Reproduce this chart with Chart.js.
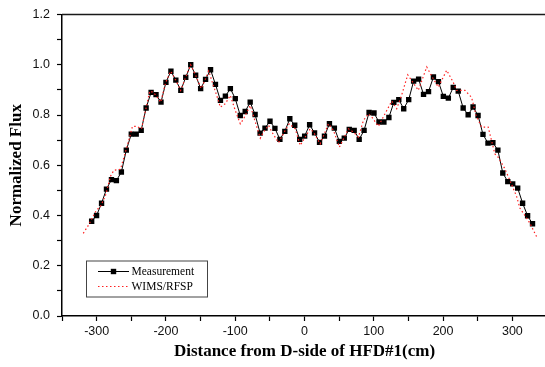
<!DOCTYPE html>
<html>
<head>
<meta charset="utf-8">
<script src="https://cdn.jsdelivr.net/npm/chart.js@4.4.1/dist/chart.umd.min.js"></script>
<style>
    html, body { margin: 0; padding: 0; background: #fff; overflow: hidden; }
    #wrap { position: absolute; left: 0; top: 0; width: 552px; height: 367px; }
</style>
</head>
<body>
<div id="wrap"><canvas id="fluxChart" width="552" height="367"></canvas></div>
<script>
// 测量值: 位置 (cm) 与归一化通量
const measX = [
    -307.2, -300.1, -292.9, -285.8, -278.6, -271.5, -264.3, -257.2, -250.0, -242.9,
    -235.7, -228.6, -221.4, -214.3, -207.1, -200.0, -192.8, -185.7, -178.5, -171.4,
    -164.2, -157.1, -149.9, -142.8, -135.6, -128.5, -121.3, -114.2, -107.0, -99.9,
    -92.7, -85.6, -78.4, -71.3, -64.1, -57.0, -49.8, -42.7, -35.5, -28.4,
    -21.2, -14.1, -6.9, 0.2, 7.4, 14.5, 21.7, 28.8, 36.0, 43.1,
    50.3, 57.4, 64.6, 71.7, 78.9, 86.0, 93.2, 100.3, 107.5, 114.6,
    121.8, 128.9, 136.1, 143.2, 150.4, 157.5, 164.7, 171.8, 179.0, 186.1,
    193.3, 200.4, 207.6, 214.7, 221.9, 229.0, 236.2, 243.3, 250.5, 257.6,
    264.8, 271.9, 279.1, 286.2, 293.4, 300.5, 307.7, 314.8, 322.0, 329.1
];
const measY = [
    0.377, 0.400, 0.449, 0.505, 0.543, 0.539, 0.573, 0.660, 0.724, 0.724,
    0.739, 0.828, 0.890, 0.881, 0.851, 0.930, 0.974, 0.939, 0.898, 0.950,
    1.000, 0.958, 0.905, 0.942, 0.980, 0.922, 0.858, 0.875, 0.905, 0.865,
    0.798, 0.814, 0.851, 0.802, 0.728, 0.748, 0.775, 0.747, 0.703, 0.735,
    0.785, 0.759, 0.703, 0.716, 0.761, 0.729, 0.691, 0.716, 0.765, 0.748,
    0.695, 0.708, 0.743, 0.739, 0.703, 0.739, 0.810, 0.808, 0.772, 0.772,
    0.790, 0.850, 0.861, 0.825, 0.861, 0.935, 0.943, 0.882, 0.893, 0.951,
    0.933, 0.874, 0.867, 0.910, 0.895, 0.828, 0.801, 0.832, 0.798, 0.723,
    0.688, 0.690, 0.660, 0.569, 0.535, 0.526, 0.509, 0.449, 0.399, 0.367
];

// WIMS/RFSP 计算值
const calcX = [
    -319.3, -311.7, -300.6, -294.4, -287.2, -280.0, -275.2, -265.6, -253.6, -248.3,
    -242.5, -235.3, -228.1, -223.3, -218.0, -212.7, -207.5, -200.3, -193.1, -185.9,
    -178.7, -171.5, -164.3, -157.1, -149.1, -142.7, -138.3, -133.0, -123.9, -121.5,
    -114.3, -107.1, -99.9, -92.7, -87.9, -78.2, -71.0, -63.8, -59.1, -51.9,
    -47.0, -37.5, -27.8, -22.0, -13.4, -6.2, 8.2, 13.0, 22.6, 34.6,
    41.8, 50.4, 63.4, 70.6, 77.8, 85.0, 92.2, 97.1, 106.6, 118.7,
    125.9, 133.1, 140.3, 149.0, 157.1, 164.3, 176.4, 183.6, 193.1, 205.2,
    214.7, 219.6, 231.6, 241.2, 247.4, 255.6, 265.1, 274.8, 279.5, 289.2,
    296.4, 306.1, 310.8, 318.0, 325.2, 334.9
];
const calcY = [
    0.329, 0.362, 0.420, 0.436, 0.480, 0.556, 0.580, 0.584, 0.699, 0.755,
    0.755, 0.745, 0.834, 0.895, 0.890, 0.871, 0.851, 0.930, 0.974, 0.939,
    0.898, 0.950, 1.000, 0.958, 0.905, 0.945, 0.975, 0.930, 0.854, 0.831,
    0.845, 0.878, 0.818, 0.765, 0.785, 0.838, 0.772, 0.708, 0.732, 0.759,
    0.732, 0.690, 0.739, 0.765, 0.745, 0.679, 0.745, 0.732, 0.685, 0.765,
    0.739, 0.672, 0.745, 0.732, 0.712, 0.778, 0.805, 0.792, 0.755, 0.818,
    0.855, 0.825, 0.880, 0.960, 0.927, 0.898, 0.991, 0.955, 0.911, 0.978,
    0.930, 0.898, 0.898, 0.870, 0.800, 0.752, 0.752, 0.645, 0.632, 0.586,
    0.540, 0.476, 0.430, 0.400, 0.370, 0.316
];

const seriesNames = ['Measurement', 'WIMS/RFSP'];
const xTitle = 'Distance from D-side of HFD#1(cm)';
const yTitle = 'Normalized Flux';

const toPoints = (xs, ys) => xs.map((x, i) => ({ x: x, y: ys[i] }));

// 外框上边/右边 + 图内图例
const framePlugin = {
    id: 'frameLegend',
    afterDraw(chart) {
        const { ctx, chartArea: a } = chart;
        ctx.save();
        ctx.strokeStyle = '#1a1a1a';
        ctx.lineWidth = 1.5;
        ctx.beginPath();
        ctx.moveTo(a.left, a.top);
        ctx.lineTo(a.right, a.top);
        ctx.lineTo(a.right, a.bottom);
        ctx.stroke();

        const bx = a.left + 24, by = a.top + 246, bw = 121, bh = 36;
        ctx.strokeStyle = '#444';
        ctx.lineWidth = 1;
        ctx.strokeRect(bx + 0.5, by + 0.5, bw, bh);

        const x0 = bx + 12, x1 = bx + 43;
        const r1 = by + 11, r2 = by + 26;
        ctx.strokeStyle = '#000';
        ctx.beginPath();
        ctx.moveTo(x0, r1);
        ctx.lineTo(x1, r1);
        ctx.stroke();
        ctx.fillStyle = '#000';
        ctx.fillRect((x0 + x1) / 2 - 2.7, r1 - 2.7, 5.4, 5.4);

        ctx.strokeStyle = '#ff2020';
        ctx.lineWidth = 1.2;
        ctx.setLineDash([1.5, 2.5]);
        ctx.beginPath();
        ctx.moveTo(x0, r2);
        ctx.lineTo(x1, r2);
        ctx.stroke();
        ctx.setLineDash([]);

        ctx.fillStyle = '#000';
        ctx.font = '11.5px "Liberation Serif", "Times New Roman", serif';
        ctx.textAlign = 'left';
        ctx.textBaseline = 'middle';
        ctx.fillText(seriesNames[0], bx + 45.5, r1 + 0.5);
        ctx.fillText(seriesNames[1], bx + 45.5, r2 + 0.5);
        ctx.restore();
    }
};

window.addEventListener('DOMContentLoaded', () => {
    const ctx = document.getElementById('fluxChart').getContext('2d');
    new Chart(ctx, {
        type: 'line',
        data: {
            datasets: [
                {
                    label: seriesNames[1],
                    data: toPoints(calcX, calcY),
                    borderColor: '#ff2020',
                    borderWidth: 1.2,
                    borderDash: [1.5, 2.5],
                    pointRadius: 0,
                    tension: 0,
                    fill: false,
                    order: 0
                },
                {
                    label: seriesNames[0],
                    data: toPoints(measX, measY),
                    borderColor: '#000',
                    borderWidth: 1,
                    pointStyle: 'rect',
                    pointRadius: 3.8,
                    pointBackgroundColor: '#000',
                    pointBorderColor: '#000',
                    pointBorderWidth: 0,
                    tension: 0,
                    fill: false,
                    order: 1
                }
            ]
        },
        options: {
            responsive: false,
            animation: false,
            layout: { padding: { top: 14, right: 5, left: 0, bottom: 0 } },
            plugins: {
                legend: { display: false },
                tooltip: { enabled: false }
            },
            scales: {
                x: {
                    type: 'linear',
                    min: -350,
                    max: 350,
                    afterFit: (s) => { s.height = 51; },
                    grid: {
                        drawOnChartArea: false,
                        drawTicks: true,
                        tickLength: 5,
                        tickColor: '#000',
                        tickWidth: 1.2
                    },
                    border: { display: true, color: '#000', width: 1.5 },
                    ticks: {
                        stepSize: 50,
                        autoSkip: false,
                        maxRotation: 0,
                        padding: 3,
                        color: '#111',
                        font: { family: 'Liberation Sans', size: 12.5 },
                        callback: (v) => (v % 100 === 0 ? String(v) : '')
                    },
                    title: {
                        display: true,
                        text: xTitle,
                        color: '#000',
                        font: { family: 'Liberation Serif', size: 17, weight: 'bold' },
                        padding: { top: 0, bottom: 5 }
                    }
                },
                y: {
                    min: 0,
                    max: 1.2,
                    afterFit: (s) => { s.width = 62; },
                    grid: {
                        drawOnChartArea: false,
                        drawTicks: true,
                        tickLength: 5,
                        tickColor: '#000',
                        tickWidth: 1.2
                    },
                    border: { display: true, color: '#000', width: 1.5 },
                    ticks: {
                        stepSize: 0.1,
                        autoSkip: false,
                        padding: 7,
                        color: '#111',
                        font: { family: 'Liberation Sans', size: 12.5 },
                        callback: (v) => (Math.round(v * 10) % 2 === 0 ? v.toFixed(1) : '')
                    },
                    title: {
                        display: true,
                        text: yTitle,
                        color: '#000',
                        font: { family: 'Liberation Serif', size: 17, weight: 'bold' },
                        padding: { top: 6, bottom: 0 }
                    }
                }
            }
        },
        plugins: [framePlugin]
    });
});
</script>
</body>
</html>
